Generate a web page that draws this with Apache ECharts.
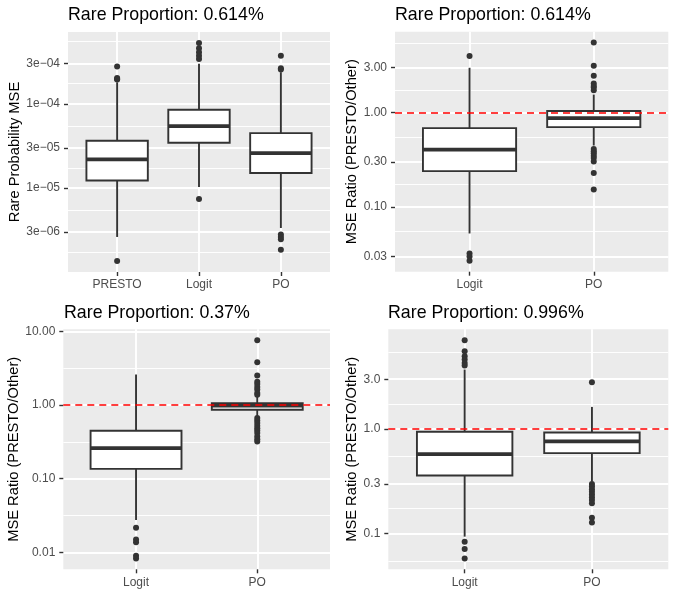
<!DOCTYPE html>
<html>
<head>
<meta charset="utf-8">
<script src="https://cdn.jsdelivr.net/npm/echarts@6/dist/echarts.min.js"></script>
<style>
html, body { margin: 0; padding: 0; background: #ffffff; }
#chart { width: 675px; height: 596px; }
</style>
</head>
<body>
<div id="chart"></div>
<script>
// ---------------- DATA ----------------
const titles = ['Rare Proportion: 0.614%', 'Rare Proportion: 0.614%', 'Rare Proportion: 0.37%', 'Rare Proportion: 0.996%'];
const yNames = ['Rare Probability MSE', 'MSE Ratio (PRESTO/Other)', 'MSE Ratio (PRESTO/Other)', 'MSE Ratio (PRESTO/Other)'];

const categoriesMSE = ['PRESTO', 'Logit', 'PO'];
const categoriesRatio = ['Logit', 'PO'];

// box stats: [lower whisker, Q1, median, Q3, upper whisker]
const p1Stats = [
  [2.63e-6, 1.23e-5, 2.19e-5, 3.65e-5, 1.80e-4],
  [1.03e-5, 3.45e-5, 5.43e-5, 8.49e-5, 2.98e-4],
  [3.36e-6, 1.51e-5, 2.60e-5, 4.49e-5, 2.37e-4]
];
const p1Outliers = [
  [2.77e-4, 2.03e-4, 1.97e-4, 1.94e-4, 1.36e-6],
  [5.28e-4, 4.56e-4, 4.08e-4, 3.73e-4, 3.41e-4, 7.41e-6],
  [3.73e-4, 2.64e-4, 2.55e-4, 2.81e-6, 2.63e-6, 2.47e-6, 1.86e-6]
];

const p2Stats = [
  [0.0524, 0.240, 0.406, 0.685, 2.99],
  [0.448, 0.702, 0.875, 1.04, 1.556]
];
const p2Outliers = [
  [3.99, 0.0321, 0.0298, 0.0269],
  [5.53, 3.14, 2.46, 2.04, 1.92, 1.85, 1.73, 0.413, 0.389, 0.371, 0.350, 0.331, 0.304, 0.229, 0.153]
];

const p3Stats = [
  [0.0275, 0.136, 0.260, 0.448, 2.59],
  [0.70, 0.865, 0.98, 1.06, 1.31]
];
const p3Outliers = [
  [0.0217, 0.0150, 0.0137, 0.0090, 0.0083],
  [7.58, 3.80, 2.51, 2.07, 1.93, 1.76, 1.62, 1.46, 1.38, 0.665, 0.618, 0.569, 0.524, 0.486, 0.452, 0.416, 0.375, 0.344, 0.320]
];

const p4Stats = [
  [0.0936, 0.360, 0.576, 0.943, 3.71],
  [0.315, 0.589, 0.762, 0.929, 1.63]
];
const p4Outliers = [
  [7.08, 5.55, 4.97, 4.62, 4.29, 4.05, 0.0838, 0.0713, 0.0580],
  [2.80, 0.299, 0.282, 0.266, 0.251, 0.237, 0.223, 0.210, 0.195, 0.142, 0.128]
];

const p1TickValues = [3e-6, 1e-5, 3e-5, 1e-4, 3e-4];
const p1TickLabels = ['3e\u221206', '1e\u221205', '3e\u221205', '1e\u221204', '3e\u221204'];
const p2TickValues = [0.03, 0.1, 0.3, 1, 3];
const p2TickLabels = ['0.03', '0.10', '0.30', '1.00', '3.00'];
const p3TickValues = [0.01, 0.1, 1, 10];
const p3TickLabels = ['0.01', '0.10', '1.00', '10.00'];
const p4TickValues = [0.1, 0.3, 1, 3];
const p4TickLabels = ['0.1', '0.3', '1.0', '3.0'];

const referenceValue = 1;

// ---------------- LAYOUT / STYLE ----------------
const FONT = "'Liberation Sans', Arial, Helvetica, sans-serif";
const INK = '#333333';
const L = Math.log10;

const panels = [
  { cats: categoriesMSE, stats: p1Stats, out: p1Outliers, ticks: p1TickValues, labels: p1TickLabels, mult: [1, 3], ref: false,
    grid: { left: 68, top: 32, width: 262, height: 240 }, nameGap: 46, titleLeft: 68, titleTop: 6 },
  { cats: categoriesRatio, stats: p2Stats, out: p2Outliers, ticks: p2TickValues, labels: p2TickLabels, mult: [1, 3], ref: true,
    grid: { left: 395, top: 31.7, width: 273.3, height: 240 }, nameGap: 32, titleLeft: 395, titleTop: 6 },
  { cats: categoriesRatio, stats: p3Stats, out: p3Outliers, ticks: p3TickValues, labels: p3TickLabels, mult: [1], ref: true,
    grid: { left: 63.3, top: 329.3, width: 266.7, height: 240 }, nameGap: 38, titleLeft: 64, titleTop: 304 },
  { cats: categoriesRatio, stats: p4Stats, out: p4Outliers, ticks: p4TickValues, labels: p4TickLabels, mult: [1, 3], ref: true,
    grid: { left: 388.3, top: 329.3, width: 280, height: 240 }, nameGap: 26, titleLeft: 388, titleTop: 304 }
];

function renderBox(params, api) {
  const i = api.value(0);
  const pMin = api.coord([i, api.value(1)]);
  const pQ1 = api.coord([i, api.value(2)]);
  const pMed = api.coord([i, api.value(3)]);
  const pQ3 = api.coord([i, api.value(4)]);
  const pMax = api.coord([i, api.value(5)]);
  const half = api.size([1, 0])[0] * 0.375;
  const x = pMed[0];
  const st = { stroke: INK, lineWidth: 1.9, fill: null };
  return {
    type: 'group',
    children: [
      { type: 'line', shape: { x1: x, y1: pQ1[1], x2: x, y2: pMin[1] }, style: st },
      { type: 'line', shape: { x1: x, y1: pQ3[1], x2: x, y2: pMax[1] }, style: st },
      { type: 'rect', shape: { x: x - half, y: pQ3[1], width: 2 * half, height: pQ1[1] - pQ3[1] },
        style: { fill: '#ffffff', stroke: INK, lineWidth: 1.9 } },
      { type: 'line', shape: { x1: x - half, y1: pMed[1], x2: x + half, y2: pMed[1] },
        style: { stroke: INK, lineWidth: 3.8 } }
    ]
  };
}

const option = {
  animation: false,
  backgroundColor: '#ffffff',
  title: [], grid: [], xAxis: [], yAxis: [], series: []
};

panels.forEach((p, k) => {
  // data range in log space, expanded by 5% like ggplot
  const all = [];
  p.stats.forEach(s => s.forEach(v => all.push(L(v))));
  p.out.forEach(o => o.forEach(v => all.push(L(v))));
  const dmin = Math.min(...all), dmax = Math.max(...all);
  const r = dmax - dmin;
  const ymin = dmin - 0.05 * r, ymax = dmax + 0.05 * r;

  const major = p.ticks.map(L);
  // minor breaks: midpoints between consecutive (extended) major breaks
  const ext = [];
  for (let e = Math.floor(ymin) - 1; e <= Math.ceil(ymax) + 1; e++) {
    p.mult.forEach(m => ext.push(e + L(m)));
  }
  ext.sort((a, b) => a - b);
  const minor = [];
  for (let j = 0; j < ext.length - 1; j++) {
    const mid = (ext[j] + ext[j + 1]) / 2;
    if (mid > ymin && mid < ymax) minor.push(mid);
  }

  option.title.push({
    text: titles[k], left: p.titleLeft, top: p.titleTop, padding: 0,
    textStyle: { fontFamily: FONT, fontSize: 17.8, fontWeight: 'normal', color: '#000000' }
  });
  option.grid.push(Object.assign({ show: true, backgroundColor: '#EBEBEB', borderWidth: 0, containLabel: false }, p.grid));

  // discrete axis expanded by 0.6 units on each side (ggplot default)
  const catIdx = p.cats.map((c, i) => i);
  option.xAxis.push({
    type: 'value', gridIndex: k, min: -0.6, max: p.cats.length - 0.4,
    axisLine: { show: false, onZero: false },
    axisTick: { show: true, customValues: catIdx, length: 4, lineStyle: { color: INK, width: 1.4 } },
    axisLabel: { customValues: catIdx, formatter: v => p.cats[Math.round(v)], color: '#4D4D4D', fontSize: 12, fontFamily: FONT, margin: 7 },
    splitLine: { show: true, lineStyle: { color: '#ffffff', width: 1.9 } }
  });
  const mainY = option.yAxis.length;
  option.yAxis.push({
    type: 'value', gridIndex: k, min: ymin, max: ymax,
    axisLine: { show: false, onZero: false },
    axisTick: { show: true, customValues: major, length: 4, lineStyle: { color: INK, width: 1.4 } },
    axisLabel: {
      customValues: major, color: '#4D4D4D', fontSize: 12, fontFamily: FONT, margin: 8,
      formatter: v => { const j = major.findIndex(m => Math.abs(m - v) < 1e-6); return j >= 0 ? p.labels[j] : ''; }
    },
    splitLine: { show: true, lineStyle: { color: '#ffffff', width: 1.9 } },
    name: yNames[k], nameLocation: 'middle', nameGap: p.nameGap,
    nameTextStyle: { fontFamily: FONT, fontSize: 14.7, color: '#000000' }
  });
  option.yAxis.push({
    type: 'value', gridIndex: k, min: ymin, max: ymax,
    axisLine: { show: false, onZero: false },
    axisTick: { show: false, customValues: minor },
    axisLabel: { show: false, customValues: minor },
    splitLine: { show: true, lineStyle: { color: '#ffffff', width: 0.95 } }
  });

  option.series.push({
    type: 'custom', xAxisIndex: k, yAxisIndex: mainY, renderItem: renderBox,
    encode: { x: 0, y: [1, 2, 3, 4, 5] }, silent: true, z: 2,
    data: p.stats.map((s, i) => [i].concat(s.map(L)))
  });
  const pts = [];
  p.out.forEach((o, i) => o.forEach(v => pts.push([i, L(v)])));
  const sc = {
    type: 'scatter', xAxisIndex: k, yAxisIndex: mainY, data: pts, symbol: 'circle', symbolSize: 6,
    itemStyle: { color: INK, opacity: 1 }, silent: true, z: 3
  };
  if (p.ref) {
    sc.markLine = {
      silent: true, symbol: 'none', label: { show: false },
      lineStyle: { color: '#FF0000', type: [7, 5], width: 1.7, opacity: 1 },
      data: [{ yAxis: L(referenceValue) }]
    };
  }
  option.series.push(sc);
});

const chart = echarts.init(document.getElementById('chart'));
chart.setOption(option);
</script>
</body>
</html>
